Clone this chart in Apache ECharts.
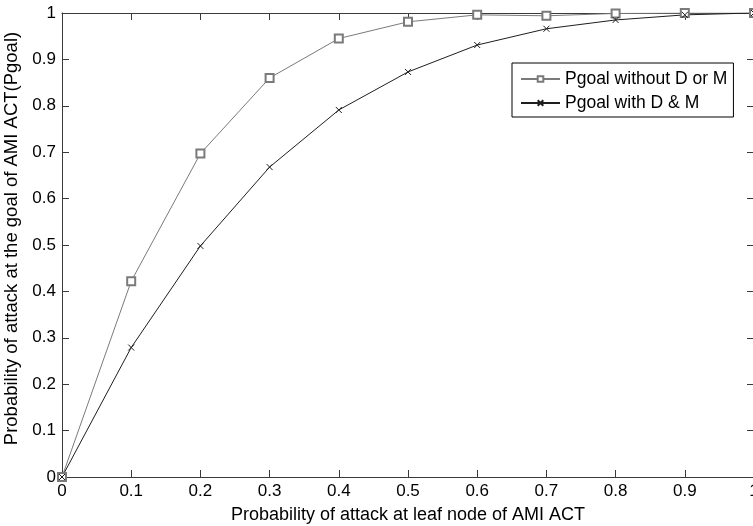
<!DOCTYPE html>
<html>
<head>
<meta charset="utf-8">
<script src="https://cdn.jsdelivr.net/npm/echarts@6/dist/echarts.min.js"></script>
<style>
  html, body { margin: 0; padding: 0; background: #fff; }
  #chart { width: 753px; height: 526px; }
</style>
</head>
<body>
<div id="chart"></div>
<script>
// values
var xValues = [0, 0.1, 0.2, 0.3, 0.4, 0.5, 0.6, 0.7, 0.8, 0.9, 1];
var pgoalWithout = [0, 0.422, 0.697, 0.86, 0.945, 0.981, 0.996, 0.994, 0.999, 1.0, 1.0];
var pgoalWith = [0, 0.279, 0.498, 0.668, 0.791, 0.873, 0.931, 0.966, 0.985, 0.996, 1.0];
var seriesNames = ['Pgoal without D or M', 'Pgoal with D & M'];

function pairs(ys) {
  return xValues.map(function (x, i) { return [x, ys[i]]; });
}

var font = 'Liberation Sans, Arial, sans-serif';
var axisColor = '#3a3a3a';

var chart = echarts.init(document.getElementById('chart'));

function boxAxis(pos, showLabels) {
  return {
    type: 'value',
    position: pos,
    min: 0,
    max: 1,
    interval: 0.1,
    axisLine: { show: true, onZero: false, lineStyle: { color: axisColor, width: 1 } },
    axisTick: { show: true, inside: true, length: 7, lineStyle: { color: axisColor } },
    axisLabel: { show: showLabels, color: '#000', fontFamily: font, fontSize: 17, margin: 6 },
    splitLine: { show: false }
  };
}

var xMain = boxAxis('bottom', true);
xMain.name = 'Probability of attack at leaf node of AMI ACT';
xMain.nameLocation = 'middle';
xMain.nameGap = 29;
xMain.nameTextStyle = { color: '#000', fontFamily: font, fontSize: 18 };

var yMain = boxAxis('left', true);
yMain.name = 'Probability of attack at the goal of AMI ACT(Pgoal)';
yMain.nameLocation = 'middle';
yMain.nameGap = 31;
yMain.nameTextStyle = { color: '#000', fontFamily: font, fontSize: 18.5, padding: [0, 0, 0, 13] };

chart.setOption({
  animation: false,
  backgroundColor: '#fff',
  grid: { left: 62, top: 13, width: 692, height: 464, outerBoundsMode: 'none', containLabel: false },
  legend: {
    orient: 'vertical',
    left: 512,
    top: 63,
    padding: [7, 6, 5, 8],
    itemGap: 6,
    itemWidth: 39,
    itemHeight: 7,
    borderColor: '#000',
    borderWidth: 1,
    backgroundColor: '#fff',
    textStyle: { color: '#000', fontFamily: font, fontSize: 17.5 },
    data: seriesNames
  },
  xAxis: [xMain, boxAxis('top', false)],
  yAxis: [yMain, boxAxis('right', false)],
  series: [
    {
      name: seriesNames[0],
      type: 'line',
      data: pairs(pgoalWithout),
      symbol: 'emptyRect',
      symbolSize: 8,
      lineStyle: { color: '#7a7a7a', width: 1 },
      itemStyle: { color: '#7a7a7a', borderWidth: 1 }
    },
    {
      name: seriesNames[1],
      type: 'line',
      data: pairs(pgoalWith),
      symbol: 'path://M0,0L10,10M10,0L0,10',
      symbolSize: 6,
      lineStyle: { color: '#1e1e1e', width: 1 },
      itemStyle: { color: '#1e1e1e', borderColor: '#1e1e1e', borderWidth: 1 }
    }
  ]
});
</script>
</body>
</html>
